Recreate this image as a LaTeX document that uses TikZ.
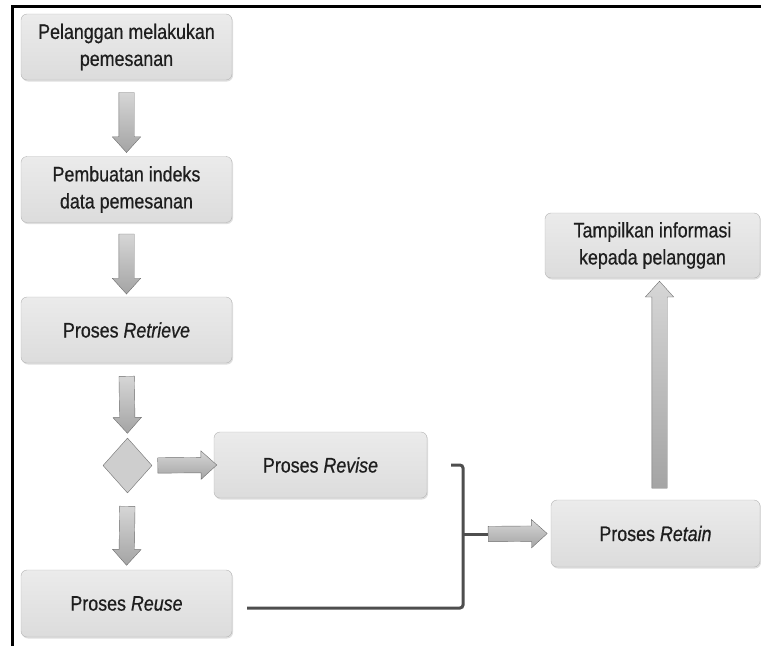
\documentclass[tikz,border=0pt]{standalone}
\usepackage{fontspec}
\newfontfamily\boxfont[FakeStretch=0.85, FakeBold=0.6]{Liberation Sans}
\usepackage{tikz}
\usetikzlibrary{shapes.arrows, shapes.geometric, shadows, positioning}
\usetikzlibrary{calc}
\usepackage{xcolor}
\definecolor{boxtop}{HTML}{EBEBEB}
\definecolor{boxbot}{HTML}{DCDCDC}
\definecolor{boxline}{HTML}{B4B4B4}
\definecolor{arrowline}{HTML}{6E6E6E}
\definecolor{arrowtop}{HTML}{D6D6D6}
\definecolor{arrowbot}{HTML}{A4A4A4}
\definecolor{bracecol}{HTML}{4E4E4E}
\definecolor{textgray}{HTML}{1E1E1E}

\begin{document}
\begin{tikzpicture}[x=1pt, y=-1pt,
	box/.style={rounded corners=6pt, draw=boxline, top color=boxtop, bottom color=boxbot,
		align=center, text=textgray, font=\boxfont\fontsize{21}{27}\selectfont,
		drop shadow={opacity=0.25, shadow xshift=1pt, shadow yshift=-1.5pt}},
	fatarrow/.style={single arrow, draw=arrowline, top color=arrowtop, bottom color=arrowbot,
		minimum width=28pt, inner xsep=0pt, inner ysep=7.5pt, single arrow head extend=6.5pt,
		single arrow tip angle=84, single arrow head indent=0pt, sloped, allow upside down},
	choice/.style={diamond, draw=arrowline, fill=arrowtop!85!arrowbot, inner sep=0pt,
		minimum width=49pt, minimum height=55pt},
	brace/.style={draw=bracecol, line width=3pt, rounded corners=3pt}]
		\useasboundingbox (0,0) rectangle (761,646);
		\draw[line width=3pt] (12,646) -- (12,6) -- (761,6);

		\draw (126.5,47) node[box, minimum width=211pt, minimum height=66pt] (pesan) {Pelanggan melakukan\\pemesanan}
		(126.5,189.5) node[box, minimum width=211pt, minimum height=66pt] (indeks) {Pembuatan indeks\\data pemesanan}
		(126.5,330) node[box, minimum width=211pt, minimum height=66pt] (retrieve) {Proses \textit{Retrieve}}
		(127.5,465.5) node[choice] (pilih) {}
		(320.5,465) node[box, minimum width=213pt, minimum height=66pt] (revise) {Proses \textit{Revise}}
		(126.5,603.5) node[box, minimum width=211pt, minimum height=67pt] (reuse) {Proses \textit{Reuse}}
		(655.5,533.5) node[box, minimum width=209pt, minimum height=67pt] (retain) {Proses \textit{Retain}}
		(652.5,245.5) node[box, minimum width=215pt, minimum height=65pt] (tampil) {Tampilkan informasi\\kepada pelanggan};

		\path (pesan.south) -- node[fatarrow, minimum height=60pt] {} (indeks.north);
		\path (indeks.south) -- node[fatarrow, minimum height=60pt] {} (retrieve.north);
		\path (retrieve.south) -- node[fatarrow, minimum height=57pt] {} (pilih.north);
		\path (pilih.south) -- node[fatarrow, minimum height=59pt] {} (reuse.north);
		\path (pilih.east) -- node[fatarrow, minimum height=59pt] {} (revise.west);

		\coordinate (revtip) at ([xshift=24pt]revise.east);
		\coordinate (reusetip) at ([xshift=15pt, yshift=-4.5pt]reuse.east);
		\coordinate (join) at (463,534);
		\draw[brace] (revtip) -- (revtip -| join) -- (reusetip -| join) -- (reusetip);
		\draw[brace, rounded corners=0pt] (join) -- ++(25,0) coordinate (joinend);
		\path (joinend) -- node[fatarrow, pos=0, anchor=tail, minimum height=59pt] {} (retain.west);

		\path ([xshift=4pt]retain.north) -- node[fatarrow, minimum height=207pt] {} ([xshift=7pt]tampil.south);
	\end{tikzpicture}
\end{document}
